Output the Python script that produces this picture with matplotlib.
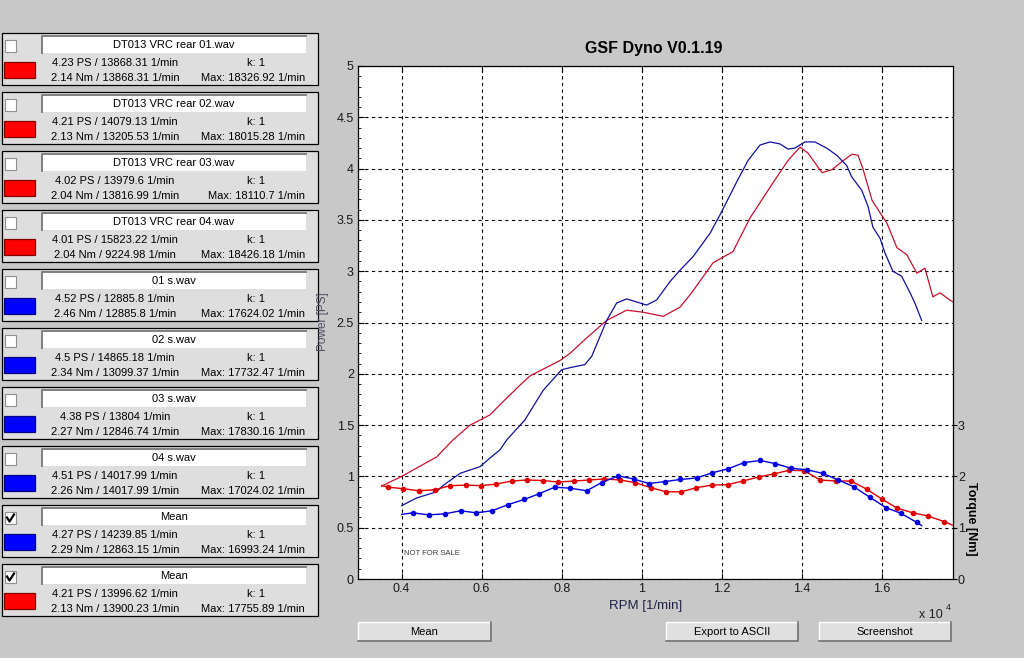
import numpy as np
import matplotlib
matplotlib.use('Agg')
import matplotlib.pyplot as plt
from matplotlib.patches import Rectangle
from matplotlib.ticker import MultipleLocator, FuncFormatter

plt.rcParams['font.family'] = ['Liberation Sans', 'DejaVu Sans']

# file list (left panel)
file_names = ['DT013 VRC rear 01.wav', 'DT013 VRC rear 02.wav', 'DT013 VRC rear 03.wav',
              'DT013 VRC rear 04.wav', '01 s.wav', '02 s.wav', '03 s.wav', '04 s.wav',
              'Mean', 'Mean']
peak_ps = [4.23, 4.21, 4.02, 4.01, 4.52, 4.5, 4.38, 4.51, 4.27, 4.21]
peak_ps_rpm = [13868.31, 14079.13, 13979.6, 15823.22, 12885.8, 14865.18, 13804, 14017.99,
               14239.85, 13996.62]
peak_nm = [2.14, 2.13, 2.04, 2.04, 2.46, 2.34, 2.27, 2.26, 2.29, 2.13]
peak_nm_rpm = [13868.31, 13205.53, 13816.99, 9224.98, 12885.8, 13099.37, 12846.74, 14017.99,
               12863.15, 13900.23]
max_rpm = [18326.92, 18015.28, 18110.7, 18426.18, 17624.02, 17732.47, 17830.16, 17024.02,
           16993.24, 17755.89]
k_factor = [1, 1, 1, 1, 1, 1, 1, 1, 1, 1]
file_colors = ['red', 'red', 'red', 'red', 'blue', 'blue', 'blue', 'blue', 'blue', 'red']
shown = [False, False, False, False, False, False, False, False, True, True]

# mean curves, rpm in units of 10^4 1/min
red_power_rpm = [0.350, 0.400, 0.4875, 0.528, 0.571, 0.596, 0.621, 0.646, 0.696, 0.721,
                 0.796, 0.821, 0.8625, 0.9125, 0.9625, 1.004, 1.054, 1.096, 1.125, 1.178,
                 1.200, 1.228, 1.271, 1.328, 1.366, 1.396, 1.416, 1.451, 1.476, 1.501,
                 1.526, 1.541, 1.553, 1.576, 1.596, 1.613, 1.638, 1.663, 1.688, 1.708,
                 1.728, 1.746, 1.763, 1.778]
red_power = [0.906, 1.00, 1.19, 1.355, 1.50, 1.55, 1.60, 1.70, 1.89, 1.98,
             2.13, 2.20, 2.35, 2.52, 2.62, 2.60, 2.56, 2.65, 2.79, 3.08,
             3.13, 3.19, 3.52, 3.86, 4.08, 4.21, 4.15, 3.96, 3.99, 4.07,
             4.14, 4.13, 4.00, 3.69, 3.57, 3.47, 3.23, 3.16, 2.98, 3.03,
             2.75, 2.79, 2.74, 2.70]

blue_power_rpm = [0.400, 0.4375, 0.4875, 0.503, 0.546, 0.596, 0.621, 0.646, 0.6625, 0.708,
                  0.754, 0.800, 0.821, 0.858, 0.875, 0.9125, 0.9375, 0.9625, 0.9875, 1.0125,
                  1.0375, 1.071, 1.096, 1.128, 1.171, 1.200, 1.2375, 1.266, 1.296, 1.321,
                  1.346, 1.366, 1.383, 1.408, 1.433, 1.4625, 1.4875, 1.5125, 1.525, 1.550,
                  1.566, 1.578, 1.596, 1.608, 1.628, 1.650, 1.671, 1.683, 1.700]
blue_power = [0.715, 0.79, 0.85, 0.91, 1.03, 1.095, 1.18, 1.26, 1.355, 1.55,
              1.84, 2.04, 2.06, 2.09, 2.17, 2.52, 2.69, 2.73, 2.70, 2.67,
              2.72, 2.90, 3.01, 3.14, 3.37, 3.58, 3.87, 4.08, 4.23, 4.26,
              4.24, 4.19, 4.20, 4.26, 4.26, 4.20, 4.13, 4.03, 3.92, 3.79,
              3.63, 3.43, 3.32, 3.18, 3.00, 2.95, 2.79, 2.69, 2.52]

red_torque_rpm = [0.350, 0.367, 0.404, 0.443, 0.483, 0.521, 0.561, 0.599, 0.636, 0.675,
                  0.713, 0.753, 0.791, 0.831, 0.868, 0.907, 0.946, 0.983, 1.023, 1.061,
                  1.099, 1.137, 1.175, 1.215, 1.253, 1.293, 1.331, 1.369, 1.407, 1.446,
                  1.485, 1.523, 1.563, 1.600, 1.639, 1.678, 1.715, 1.756, 1.777]
red_torque = [1.82, 1.79, 1.76, 1.72, 1.74, 1.82, 1.83, 1.82, 1.85, 1.91,
              1.93, 1.92, 1.89, 1.91, 1.93, 1.95, 1.93, 1.88, 1.78, 1.70,
              1.70, 1.78, 1.83, 1.84, 1.91, 1.99, 2.05, 2.12, 2.11, 1.93,
              1.91, 1.91, 1.75, 1.56, 1.38, 1.29, 1.23, 1.12, 1.05]

blue_torque_rpm = [0.400, 0.4275, 0.4675, 0.5075, 0.5475, 0.586, 0.626, 0.666, 0.706, 0.743,
                   0.7825, 0.8215, 0.8625, 0.900, 0.941, 0.980, 1.018, 1.058, 1.097, 1.1375,
                   1.1765, 1.2165, 1.2565, 1.296, 1.334, 1.373, 1.4125, 1.4525, 1.4915, 1.530,
                   1.571, 1.611, 1.648, 1.6875, 1.700]
blue_torque = [1.26, 1.29, 1.25, 1.27, 1.33, 1.29, 1.33, 1.45, 1.55, 1.66,
               1.79, 1.77, 1.72, 1.88, 2.01, 1.95, 1.86, 1.90, 1.94, 1.97,
               2.07, 2.15, 2.27, 2.31, 2.25, 2.16, 2.13, 2.06, 1.93, 1.80,
               1.59, 1.39, 1.28, 1.105, 1.04]

button_labels = ['Mean', 'Export to ASCII', 'Screenshot']

W, H = 1024, 658
fig = plt.figure(figsize=(W / 100, H / 100), dpi=100, facecolor='#C8C8C8')

# background layer in pixel coords (y downwards) for the GUI parts
bg = fig.add_axes([0, 0, 1, 1], zorder=0)
bg.set_xlim(0, W)
bg.set_ylim(H, 0)
bg.axis('off')

swatch = {'red': ('#FF0000', '#800000'), 'blue': ('#0000FF', '#000080')}
for i in range(len(file_names)):
    top = 33 + 59 * i
    bg.add_patch(Rectangle((2, top), 316, 52, facecolor='#DEDEDE', edgecolor='black', lw=0.9))
    # checkbox
    bg.add_patch(Rectangle((5, top + 7), 11, 12, facecolor='white', edgecolor='#909090', lw=0.8))
    if shown[i]:
        bg.plot([7, 9.5, 14], [top + 12.5, top + 16.5, top + 9.5], color='black', lw=1.6)
    # name field
    bg.add_patch(Rectangle((42, top + 2), 264, 18, facecolor='white', edgecolor='none'))
    bg.plot([42, 42, 306], [top + 20, top + 2.5, top + 2.5], color='#808080', lw=1.4)
    bg.text(174, top + 12, file_names[i], ha='center', va='center', fontsize=8)
    # colour swatch
    fc, ec = swatch[file_colors[i]]
    bg.add_patch(Rectangle((4, top + 29), 31, 16, facecolor=fc, edgecolor=ec, lw=0.9))
    bg.text(115, top + 30, f'{peak_ps[i]} PS / {peak_ps_rpm[i]} 1/min',
            ha='center', va='center', fontsize=8)
    bg.text(115, top + 45, f'{peak_nm[i]} Nm / {peak_nm_rpm[i]} 1/min',
            ha='center', va='center', fontsize=8)
    bg.text(256, top + 30, f'k: {k_factor[i]}', ha='center', va='center', fontsize=8)
    bg.text(305, top + 45, f'Max: {max_rpm[i]} 1/min', ha='right', va='center', fontsize=8)

# buttons under the plot
for label, (x0, x1) in zip(button_labels, [(358, 491), (666, 798), (819, 951)]):
    bg.add_patch(Rectangle((x0, 622), x1 - x0, 19, facecolor='#E0E0E0', edgecolor='none'))
    bg.plot([x0, x0, x1], [641, 622, 622], color='white', lw=1)
    bg.plot([x0, x1, x1], [641, 641, 622], color='#707070', lw=1.2)
    bg.text((x0 + x1) / 2, 632, label, ha='center', va='center', fontsize=8)

bg.text(653.5, 48, 'GSF Dyno V0.1.19', ha='center', va='center', fontsize=11.5,
        fontweight='bold')
bg.text(645.5, 606, 'RPM [1/min]', ha='center', va='center', fontsize=9.5, color='#202048')
bg.text(323, 322, 'Power [PS]', ha='center', va='center', rotation=90, fontsize=8.5,
        color='#505068')
bg.text(971, 519, 'Torque [Nm]', ha='center', va='center', rotation=-90, fontsize=9,
        fontweight='bold')
bg.text(943, 615, 'x 10', ha='right', va='center', fontsize=9, color='#202020')
bg.text(946, 607, '4', ha='left', va='center', fontsize=6.5, color='#202020')

# main plot
ax = fig.add_axes([358 / W, (H - 579) / H, (953 - 358) / W, (579 - 66) / H], zorder=1)
ax.set_facecolor('white')
ax.set_xlim(0.2908, 1.7783)
ax.set_ylim(0, 5)
ax.xaxis.set_major_locator(MultipleLocator(0.2))
ax.yaxis.set_major_locator(MultipleLocator(0.5))
ax.yaxis.set_minor_locator(MultipleLocator(0.1))
fmt = FuncFormatter(lambda v, p: f'{round(v, 2):g}')
ax.xaxis.set_major_formatter(fmt)
ax.yaxis.set_major_formatter(fmt)
ax.tick_params(which='both', direction='in', right=True, top=True, labelsize=9,
               labelcolor='#1a1a1a', pad=3)
ax.tick_params(which='major', length=4)
ax.tick_params(which='minor', length=2.5)
ax.grid(True, which='major', color='black', linestyle=(0, (3, 3)), lw=0.8)
for s in ax.spines.values():
    s.set_linewidth(0.9)

ax.plot(red_power_rpm, red_power, color='#C8102E', lw=0.9)
ax.plot(blue_power_rpm, blue_power, color='#1010A0', lw=0.9)
ax.text(0.405, 0.25, 'NOT FOR SALE', fontsize=5.5, color='#3a3a3a', va='center')

ax2 = ax.twinx()
ax2.set_ylim(0, 10)
ax2.set_yticks([0, 1, 2, 3])
ax2.yaxis.set_major_formatter(FuncFormatter(lambda v, p: f'{v:g}'))
ax2.tick_params(direction='out', length=3, labelsize=9, labelcolor='#1a1a1a', pad=0.5)
for s in ax2.spines.values():
    s.set_visible(False)

ax2.plot(red_torque_rpm, red_torque, color='#E00000', lw=1.0, marker='o', ms=3,
         markevery=slice(1, len(red_torque) - 1))
ax2.plot(blue_torque_rpm, blue_torque, color='#0000E0', lw=1.0, marker='o', ms=3,
         markevery=slice(1, len(blue_torque) - 1))

fig.savefig('out.png', dpi=100, facecolor=fig.get_facecolor())
